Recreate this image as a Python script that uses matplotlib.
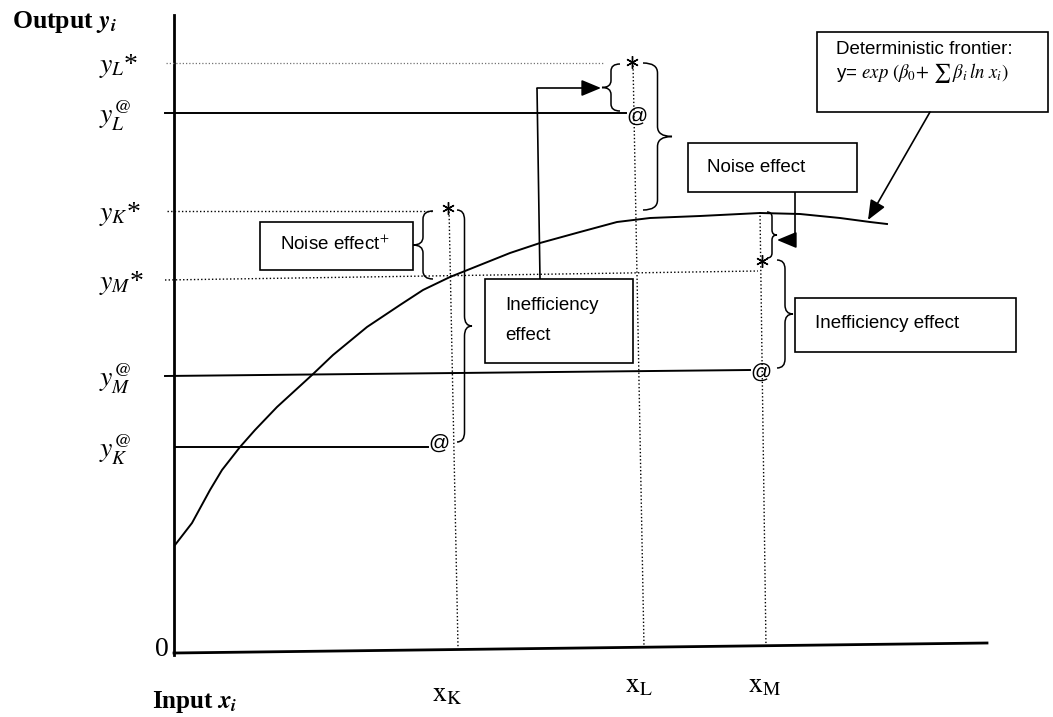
"""Stochastic frontier sketch: observed vs deterministic output for firms K, L, M."""

import matplotlib

matplotlib.use("Agg")

import matplotlib.pyplot as plt
from matplotlib.patches import FancyArrowPatch, PathPatch, Rectangle
from matplotlib.path import Path

plt.rcParams["mathtext.fontset"] = "stix"
plt.rcParams["font.family"] = ["Liberation Sans", "DejaVu Sans"]
SERIF = "Liberation Serif"

# deterministic frontier (drawing units = pixels)
frontier_x = [175, 192, 210, 222, 240, 255, 277, 312, 333, 367, 400, 423, 450,
              480, 510, 540, 580, 617, 650, 700, 760, 800, 840, 870, 887]
frontier_y = [545, 523, 490, 470, 447, 430, 407, 375, 355, 327, 305, 290, 277,
              265, 253, 243, 232, 222, 218, 216, 213, 214, 218, 222, 224]

# output levels on the vertical axis
level_labels = [r"$y_L$*", r"$y_L^{@}$", r"$y_K$*",
                r"$y_M$*", r"$y_M^{@}$", r"$y_K^{@}$"]
level_y = [63, 113, 211, 280, 376, 447]

# firms K, L, M: input position, stochastic frontier (*) and observed (@) output
firm_names = [r"$\mathrm{x_K}$", r"$\mathrm{x_L}$", r"$\mathrm{x_M}$"]
firm_x_top = [449, 633, 760]
firm_x_base = [458, 644, 766]
star_x = [448, 632, 762]
star_y = [208, 62, 261]
at_x = [439, 637, 761]
at_y = [443, 116, 372]
vline_top = [208, 62, 212]


def brace(ax, x0, y0, y1, depth, r=8, lw=1.1):
    """Vertical curly brace, open ends at x0, tip at x0 + depth."""
    half = x0 + depth / 2
    m = (y0 + y1) / 2
    verts = [(x0, y0), (half, y0), (half, y0 + r), (half, m - r),
             (half, m), (x0 + depth, m), (half, m), (half, m + r),
             (half, y1 - r), (half, y1), (x0, y1)]
    codes = [Path.MOVETO, Path.CURVE3, Path.CURVE3, Path.LINETO,
             Path.CURVE3, Path.CURVE3, Path.CURVE3, Path.CURVE3,
             Path.LINETO, Path.CURVE3, Path.CURVE3]
    ax.add_patch(PathPatch(Path(verts, codes), fill=False, lw=lw, color="k"))


def arrow_path(ax, pts, lw=1.2):
    xs, ys = zip(*pts)
    ax.plot(xs[:-1], ys[:-1], color="k", lw=lw, solid_capstyle="butt")
    ax.add_patch(FancyArrowPatch(pts[-2], pts[-1],
                                 arrowstyle="-|>,head_length=0.6,head_width=0.25",
                                 mutation_scale=20, lw=lw, color="k",
                                 shrinkA=0, shrinkB=0))


def box(ax, x0, y0, x1, y1):
    ax.add_patch(Rectangle((x0, y0), x1 - x0, y1 - y0, fill=False, lw=1.2,
                           ec="k"))


fig = plt.figure(figsize=(10.53, 7.17), dpi=100)
ax = fig.add_axes([0, 0, 1, 1])
ax.set_xlim(0, 1053)
ax.set_ylim(717, 0)
ax.axis("off")

dots = (0, (1, 1.6))

# axes of the diagram
ax.plot([174, 174], [15, 655], color="k", lw=2.0)
ax.plot([174, 987], [653, 643], color="k", lw=2.0)
ax.text(162, 650, "0", family=SERIF, fontsize=20, ha="center", va="center")
ax.text(12, 22, "Output " + r"$\mathbfit{y_i}$", family=SERIF,
        fontweight="bold", fontsize=18.5, ha="left", va="center")
ax.text(152, 702, "Input " + r"$\mathbfit{x_i}$", family=SERIF,
        fontweight="bold", fontsize=18, ha="left", va="center")

for lab, y in zip(level_labels, level_y):
    ax.text(99, y + 3, lab, family=SERIF, fontsize=20, ha="left",
            va="center")

# frontier
ax.plot(frontier_x, frontier_y, color="k", lw=1.4)

# vertical dotted lines down to the inputs
for name, xt, xb, yt in zip(firm_names, firm_x_top, firm_x_base, vline_top):
    ax.plot([xt, xb], [yt, 647], color="k", lw=1.0, ls=dots)
for name, x, y in zip(firm_names, [447, 639, 765], [694, 685, 685]):
    ax.text(x, y, name, fontsize=20, ha="center", va="center")

# horizontal guides
ax.plot([166, 604], [level_y[0], level_y[0]], color="0.45", lw=0.9, ls=dots)
ax.plot([165, 626], [level_y[1], level_y[1]], color="k", lw=1.4)
ax.plot([167, 433], [level_y[2], level_y[2]], color="k", lw=1.0, ls=dots)
ax.plot([165, 758], [level_y[3], 271], color="k", lw=1.0, ls=dots)
ax.plot([165, 750], [level_y[4], 370], color="k", lw=1.4)
ax.plot([175, 428], [level_y[5], level_y[5]], color="k", lw=1.4)

# observations
ax.plot(star_x, star_y, ls="none", marker=(6, 2, 0), ms=9, mew=1.0, color="k")
for x, y in zip(at_x, at_y):
    ax.text(x, y, "@", fontsize=15, ha="center", va="center")

# braces
brace(ax, 620, 64, 111, -18, r=7)
brace(ax, 643, 63, 210, 29, r=10)
brace(ax, 433, 211, 279, -20, r=8)
brace(ax, 457, 210, 442, 15, r=10)
brace(ax, 767, 212, 258, 10, r=5)
brace(ax, 777, 260, 368, 16, r=9)

# text boxes
box(ax, 817, 32, 1048, 112)
ax.text(836, 50, "Deterministic frontier:", fontsize=13.5, ha="left",
        va="center")
ax.text(836, 73, "y= " + r"$exp\ (\beta_0\!+\,\sum\,\beta_i\,ln\ x_i)$",
        fontsize=13.5, ha="left", va="center")

box(ax, 688, 143, 857, 192)
ax.text(707, 168, "Noise effect", fontsize=13.5, ha="left", va="center")

box(ax, 795, 298, 1016, 352)
ax.text(815, 323, "Inefficiency effect", fontsize=13.5, ha="left",
        va="center")

box(ax, 260, 222, 413, 270)
ax.text(280, 244, "Noise effect" + r"$^{+}$", fontsize=13.5, ha="left",
        va="center")

box(ax, 485, 279, 633, 363)
ax.text(505, 305, "Inefficiency", fontsize=13.5, ha="left", va="center")
ax.text(505, 335, "effect", fontsize=13.5, ha="left", va="center")

# pointers from boxes
arrow_path(ax, [(540, 279), (537, 88), (601, 88)])
arrow_path(ax, [(795, 192), (795, 240), (777, 240)])
arrow_path(ax, [(930, 112), (868, 220)])

fig.savefig("out.png", dpi=100)
plt.close(fig)
